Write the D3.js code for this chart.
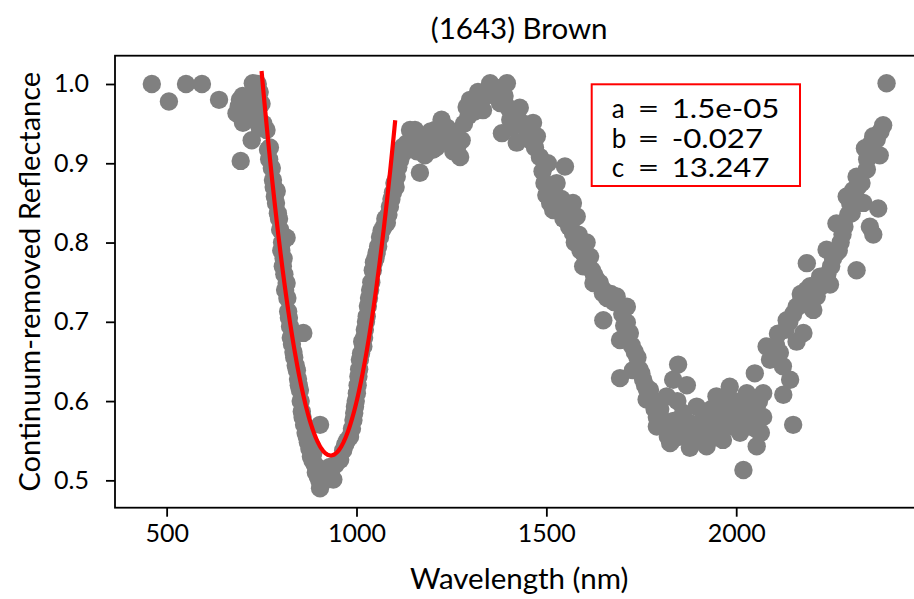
<!DOCTYPE html>
<html><head><meta charset="utf-8">
<script src="https://cdn.jsdelivr.net/npm/d3@7"></script>
<style>
html,body{margin:0;padding:0;background:#fff;}
svg{display:block;}
text{font-family:Lato,"DejaVu Sans",sans-serif;fill:#000;}
</style></head>
<body>
<svg id="chart" width="914" height="599"></svg>
<script>
// ---- data ----
const title = "(1643) Brown";
const xLabel = "Wavelength (nm)";
const yLabel = "Continuum-removed Reflectance";
const xTicks = [500, 1000, 1500, 2000];
const yTicks = [0.5, 0.6, 0.7, 0.8, 0.9, 1.0];
const fitNames = ["a", "b", "c"];
const fitValues = ["1.5e-05", "-0.027", "13.247"];
const fitCoef = [1.4638e-5, -0.027286, 13.247]; // a, b, c (unrounded)
const fitRange = [750, 1102];
const spectrum = [
[461,1.0],[506,0.978],[551,1.0],[593,1.0],[638,0.980],
[693,0.980],[684,0.963],[701,0.951],[727,1.001],[737,0.989],[741,0.958],[724,0.929],[695,0.903],[763,0.942],
[710,0.975],[720,0.97],[730,0.985],[745,0.99],[750,0.975],[715,0.96],[735,0.965],[755,0.95],[705,0.962],[690,0.972],[725,0.955],[745,0.945],[700,0.985],[740,1.0],
[767,0.917],[777,0.894],[780,0.879],[785,0.858],[793,0.837],[799,0.816],[816,0.806],[806,0.770],[816,0.749],[820,0.713],[825,0.694],[860,0.686],[834,0.662],[843,0.639],[851,0.614],[856,0.587],[904,0.570],[869,0.555],[886,0.534],[895,0.517],[904,0.490],[939,0.501],[930,0.517],[957,0.526],
[770,0.905],[772,0.92],[782,0.87],[788,0.85],[790,0.865],[796,0.83],[802,0.79],[804,0.8],[808,0.78],[810,0.76],[812,0.74],[818,0.73],[822,0.705],[827,0.68],[830,0.672],[836,0.655],[840,0.645],[846,0.628],[848,0.62],[853,0.6],[858,0.58],[862,0.57],[866,0.56],[872,0.548],[876,0.54],[880,0.53],[884,0.525],[890,0.52],[893,0.51],[898,0.505],[902,0.50],[908,0.505],[912,0.51],[916,0.50],[920,0.505],[925,0.51],[935,0.515],[945,0.52],
[965,0.538],[983,0.555],[992,0.576],[996,0.593],[1001,0.610],[1005,0.631],[1009,0.652],[1018,0.669],[1022,0.690],[1027,0.707],[1036,0.740],[1043,0.765],[1053,0.787],[1062,0.807],[1080,0.825],[1088,0.845],[1096,0.863],[1106,0.883],[1115,0.904],[1123,0.921],[1141,0.942],
[970,0.545],[975,0.55],[988,0.565],[994,0.585],[998,0.6],[1003,0.62],[1007,0.64],[1012,0.66],[1015,0.675],[1020,0.68],[1025,0.70],[1030,0.72],[1033,0.73],[1039,0.75],[1046,0.775],[1050,0.78],[1057,0.795],[1066,0.815],[1072,0.82],[1076,0.83],[1084,0.835],[1092,0.855],[1100,0.875],[1103,0.87],[1110,0.895],[1118,0.91],[1127,0.915],[1132,0.925],
[1114,0.913],[1154,0.942],[1167,0.888],[1201,0.917],[1224,0.955],[1207,0.942],[1246,0.926],[1273,0.908],[1277,0.929],[1290,0.971],[1299,0.980],[1320,0.990],[1352,1.001],[1396,1.001],[1378,0.976],[1333,0.967],[1383,0.938],[1430,0.970],[1465,0.951],[1422,0.926],[1475,0.934],[1483,0.908],[1504,0.900],[1549,0.896],[1527,0.875],[1518,0.841],[1570,0.850],[1580,0.833],[1570,0.812],[1606,0.800],[1615,0.782],[1597,0.770],[1641,0.749],[1685,0.732],
[1145,0.92],[1160,0.915],[1175,0.93],[1180,0.91],[1190,0.925],[1195,0.94],[1210,0.92],[1215,0.935],[1230,0.93],[1238,0.945],[1250,0.94],[1255,0.915],[1260,0.93],[1265,0.92],[1283,0.95],[1295,0.96],[1305,0.97],[1310,0.965],[1315,0.98],[1325,0.975],[1340,0.985],[1345,0.99],[1358,0.99],[1365,0.985],[1370,0.995],[1385,0.99],[1390,0.985],[1400,0.97],[1405,0.955],[1410,0.945],[1415,0.96],[1440,0.95],[1450,0.94],[1455,0.93],[1470,0.92],[1490,0.89],[1495,0.875],[1500,0.86],[1510,0.85],[1520,0.86],[1525,0.845],[1535,0.84],[1540,0.855],[1545,0.83],[1555,0.835],[1560,0.82],[1565,0.825],[1575,0.80],[1585,0.81],[1590,0.79],[1600,0.785],[1610,0.77],[1620,0.765],[1625,0.76],[1630,0.755],[1650,0.74],[1660,0.73],[1670,0.735],[1678,0.725],
[1624,0.749],[1649,0.736],[1685,0.728],[1712,0.719],[1650,0.702],[1712,0.699],[1720,0.686],[1694,0.677],[1733,0.662],[1728,0.639],[1694,0.629],[1755,0.627],[1773,0.614],[1764,0.602],[1791,0.580],[1791,0.568],[1826,0.547],[1847,0.646],[1834,0.627],[1870,0.620],[1817,0.606],[1860,0.585],[1878,0.572],[1878,0.541],[1922,0.543],[1965,0.551],[1896,0.593],[1913,0.580],[1948,0.606],[1983,0.618],[1975,0.585],[2001,0.593],[2028,0.610],[2054,0.593],[2071,0.580],[2054,0.564],[2019,0.513],[2054,0.543],[2036,0.568],[1992,0.568],[1931,0.568],[2071,0.610],[2049,0.635],[2080,0.669],[2089,0.652],[2115,0.661],[2123,0.644],[2142,0.627],[2124,0.608],[2150,0.570],[2133,0.702],[2159,0.719],[2177,0.728],[2203,0.715],[2212,0.732],[2177,0.686],[2159,0.675],[2247,0.747],[2221,0.744],
[1800,0.59],[1810,0.575],[1840,0.56],[1850,0.555],[1855,0.57],[1865,0.56],[1885,0.555],[1890,0.565],[1900,0.57],[1905,0.55],[1910,0.56],[1918,0.575],[1925,0.585],[1935,0.59],[1940,0.575],[1945,0.555],[1955,0.565],[1960,0.585],[1970,0.6],[1980,0.575],[1988,0.59],[1995,0.6],[2005,0.575],[2010,0.56],[2015,0.585],[2025,0.59],[2040,0.58],[2045,0.6],[2060,0.6],[2065,0.56],
[1700,0.71],[1705,0.695],[1715,0.68],[1725,0.67],[1740,0.655],[1745,0.64],[1750,0.635],[1760,0.62],[1765,0.615],[1778,0.6],[1785,0.59],[1795,0.58],[1815,0.565],[1820,0.555],[1830,0.55],[1835,0.575],[1845,0.6],
[2095,0.66],[2105,0.67],[2110,0.685],[2130,0.69],[2140,0.70],[2150,0.71],[2165,0.72],[2170,0.735],[2185,0.74],[2190,0.73],[2195,0.745],[2230,0.75],[2240,0.76],
[2396,1.001],[2387,0.948],[2361,0.934],[2339,0.919],[2378,0.910],[2344,0.892],[2317,0.883],[2308,0.866],[2291,0.858],[2335,0.850],[2374,0.843],[2304,0.837],[2264,0.824],[2352,0.820],[2361,0.810],[2238,0.791],[2264,0.787],[2317,0.765],[2186,0.774],[2221,0.757],[2194,0.744],[2168,0.723],
[2250,0.77],[2255,0.78],[2270,0.79],[2275,0.80],[2280,0.81],[2285,0.82],[2295,0.835],[2300,0.85],[2310,0.855],[2320,0.87],[2325,0.88],[2330,0.875],[2345,0.905],[2350,0.91],[2355,0.925],[2370,0.93],[2380,0.94]
];

// ---- layout ----
const plot = {left:115, top:55.7, right:923.4, bottom:507.7};
const svg = d3.select("#chart");

const x = d3.scaleLinear().domain([364, 2493]).range([plot.left, plot.right]);
const y = d3.scaleLinear().domain([0.4655, 1.0357]).range([plot.bottom, plot.top]);

svg.append("clipPath").attr("id","clip").append("rect")
  .attr("x",plot.left).attr("y",plot.top)
  .attr("width",plot.right-plot.left).attr("height",plot.bottom-plot.top);

const g = svg.append("g").attr("clip-path","url(#clip)");
g.selectAll("circle").data(spectrum).join("circle")
  .attr("cx",d=>x(d[0])).attr("cy",d=>y(d[1])).attr("r",9.2)
  .attr("fill","#808080");

// fit line (quadratic evaluated from the fit coefficients)
const fitX = d3.range(fitRange[0], fitRange[1]+0.001, 2);
const fitPts = fitX.map(v=>[v, fitCoef[0]*v*v + fitCoef[1]*v + fitCoef[2]]);
svg.append("path").datum(fitPts)
  .attr("fill","none").attr("stroke","#ff0000").attr("stroke-width",4.2)
  .attr("d", d3.line().x(d=>x(d[0])).y(d=>y(d[1])));

// axes
const xAxis = svg.append("g").attr("transform",`translate(0,${plot.bottom})`)
  .call(d3.axisBottom(x).tickValues(xTicks).tickSize(9).tickPadding(8).tickFormat(d3.format("d")));
const yAxis = svg.append("g").attr("transform",`translate(${plot.left},0)`)
  .call(d3.axisLeft(y).tickValues(yTicks).tickSize(9).tickPadding(17).tickFormat(d3.format(".1f")));
[xAxis,yAxis].forEach(a=>{
  a.select(".domain").remove();
  a.selectAll(".tick line").attr("stroke","#000").attr("stroke-width",1.8);
  a.selectAll(".tick text").attr("font-size",25).attr("font-family","Lato");
});
// frame
svg.append("rect").attr("x",plot.left).attr("y",plot.top)
  .attr("width",plot.right-plot.left).attr("height",plot.bottom-plot.top)
  .attr("fill","none").attr("stroke","#000").attr("stroke-width",1.8);

// labels
svg.append("text").attr("x",(plot.left+plot.right)/2).attr("y",39)
  .attr("text-anchor","middle").attr("font-size",29.5).text(title);
svg.append("text").attr("x",(plot.left+plot.right)/2).attr("y",589)
  .attr("text-anchor","middle").attr("font-size",29.5).text(xLabel);
svg.append("text").attr("transform",`translate(40,${(plot.top+plot.bottom)/2}) rotate(-90)`)
  .attr("text-anchor","middle").attr("font-size",29).text(yLabel);

// coefficient box
svg.append("rect").attr("x",591.7).attr("y",84.3).attr("width",208.3).attr("height",101.7)
  .attr("fill","#fff").attr("stroke","#ff0000").attr("stroke-width",2);
const rows = svg.selectAll(".coef").data(fitNames).join("g").attr("class","coef")
  .attr("transform",(d,i)=>`translate(0,${118.3+i*29.2})`);
rows.append("text").attr("x",611.7).attr("font-size",26).text(d=>d);
rows.append("text").attr("x",648.5).attr("text-anchor","middle").attr("font-size",26)
  .attr("transform","translate(648.5,0) scale(1.45,1) translate(-648.5,0)").text("=");
rows.append("text").attr("x",671.7).attr("font-size",26)
  .attr("transform","translate(671.7,0) scale(1.2,1) translate(-671.7,0)")
  .text((d,i)=>fitValues[i]);
</script>
</body></html>
